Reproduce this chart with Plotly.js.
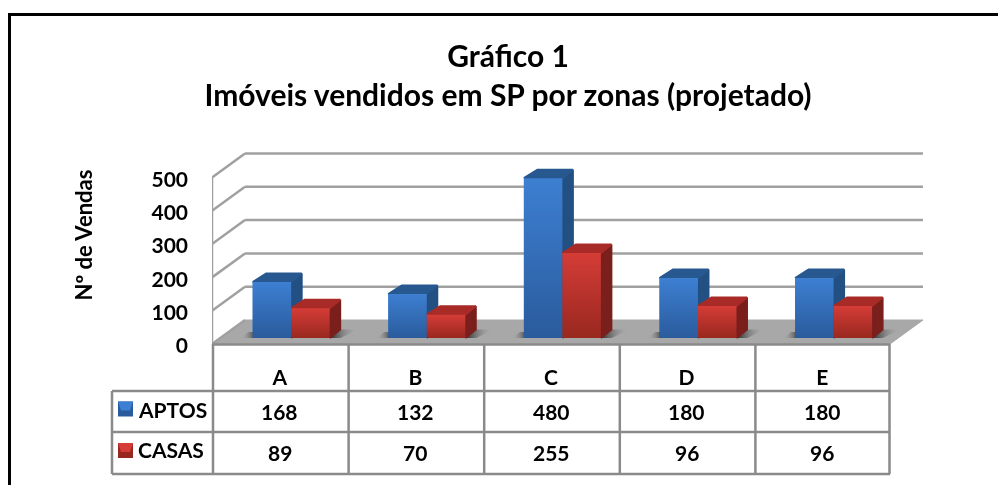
<!DOCTYPE html>
<html><head><meta charset="utf-8">
<script src="https://cdn.plot.ly/plotly-3.0.1.min.js"></script>
<style>html,body{margin:0;padding:0;background:#fff}#c{width:998px;height:485px;filter:blur(0.45px)}</style>
</head><body><div id="c"></div>
<script>
const categories = ['A','B','C','D','E'];
const aptos = [168,132,480,180,180];
const casas = [89,70,255,96,96];
const yTicks = [0,100,200,300,400,500];
const seriesNames = ['APTOS','CASAS'];
const titleText = 'Gráfico 1<br>Imóveis vendidos em SP por zonas (projetado)';
const yTitle = 'Nº de Vendas';

// layout geometry (page pixels)
const W=998,H=485,L=212,R=925,T=150,B=344;
const catW=135.6, yScale=0.333;
const pw=R-L, ph=B-T;
const px=p=>(p-L)/pw, py=p=>(B-p)/ph;
const xs=categories.map((_,i)=>i);
const FONT='Lato, Carlito, Calibri, sans-serif';
// depth of wall/floor and bars, in axis units
const wallDx=33/catW, wallDy=24/yScale;
const barDx=10.5/catW, barDxL=13.5/catW, barDy=8.5/yScale, base=6/yScale;
const barW=38.5/catW;
const left=-0.5, right=4.5;

const colors={
 blue:{hi:'#3d7fd2',lo:'#2a5b9c',side:'#235083',top:'#27588f'},
 red:{hi:'#d53c37',lo:'#98281f',side:'#7a1f1c',top:'#a82b27'}
};
const traces=[];
function poly(x,y,color,extra){
  traces.push(Object.assign({type:'scatter',mode:'lines',x:x.concat(x[0]),y:y.concat(y[0]),fill:'toself',
    fillcolor:color,line:{color:color,width:2},hoverinfo:'skip',showlegend:false,cliponaxis:false},extra||{}));
}
const offs=[-0.2,-0.2+barW];
const vals=[aptos,casas];
const cols=[colors.blue,colors.red];
// real bars
vals.forEach((v,s)=>traces.push({type:'bar',name:seriesNames[s],x:xs,y:v,base:base,width:barW,offset:offs[s],
  marker:{color:cols[s].hi,line:{width:0}},showlegend:false}));
// floor shadows
xs.forEach(i=>{
  const r=offs[1]+i+barW;
  poly([r,r+barDx,r+barDx+0.13,r+0.08],[base,base+barDy,base+barDy,base],'rgba(0,0,0,0)',
    {line:{width:0},fillgradient:{type:'horizontal',colorscale:[[0,'rgba(40,40,40,1)'],[1,'rgba(166,166,166,0)']]}});
  const l=offs[0]+i;
  poly([l-0.09,l-0.03,l+0.02,l+0.02],[base,base+barDy*0.7,base+barDy*0.7,base],'rgba(0,0,0,0)',
    {line:{width:0},fillgradient:{type:'horizontal',colorscale:[[0,'rgba(166,166,166,0)'],[1,'rgba(50,50,50,0.9)']]}});
});
// 3D faces, back to front
xs.forEach(i=>{
  vals.forEach((v,s)=>{
    const x0=i+offs[s],x1=x0+barW,t=base+v[i],c=cols[s];
    poly([x1,x1+barDx,x1+barDx,x1],[base,base+barDy,t+barDy,t],c.side);
    poly([x0,x0+barDxL,x1+barDx,x1],[t,t+barDy,t+barDy,t],c.top);
    poly([x0,x1,x1,x0],[base,base,t,t],'rgba(0,0,0,0)',
      {line:{width:0},fillgradient:{type:'vertical',colorscale:[[0,c.lo],[1,c.hi]]}});
  });
});

// shapes
const GRID='#a0a0a0', TAB='#8a8a8a';
const shapes=[];
const ln=(x0,y0,x1,y1,color,width,layer)=>shapes.push({type:'line',xref:'paper',yref:'paper',
  x0:px(x0),y0:py(y0),x1:px(x1),y1:py(y1),line:{color,width},layer:layer||'above'});
// frame
ln(8,14.5,998,14.5,'#000',3);
ln(9.5,14.5,9.5,485,'#000',3);
// floor
shapes.push({type:'path',xref:'x',yref:'y',layer:'below',fillcolor:'#a8a8a8',line:{color:'#a8a8a8',width:1},
  path:`M ${left} 0 L ${right} 0 L ${right+wallDx} ${wallDy} L ${left+wallDx} ${wallDy} Z`});
// wall grid
yTicks.forEach(v=>{
  shapes.push({type:'line',xref:'x',yref:'y',layer:'below',x0:left,y0:v,x1:left+wallDx,y1:v+wallDy,line:{color:GRID,width:2.5}});
  if(v>0) shapes.push({type:'line',xref:'x',yref:'y',layer:'below',x0:left+wallDx,y0:v+wallDy,x1:right+wallDx,y1:v+wallDy,line:{color:GRID,width:2.5}});
});
shapes.push({type:'line',xref:'x',yref:'y',layer:'below',x0:left,y0:0,x1:left,y1:500,line:{color:GRID,width:2.5}});
// table
const tabL=112, rows=[344,391,432,474];
const colX=categories.map((_,i)=>L+1+catW*i).concat(889.5);
colX.forEach(x=>ln(x,344,x,474,TAB,2.5));
ln(tabL,391,tabL,474,TAB,2.5);
ln(L,344.5,890,344.5,TAB,2.5);
rows.slice(1).forEach(y=>ln(tabL,y,890,y,TAB,2.5));
// legend keys
const keyY=[401.5,443];
seriesNames.forEach((n,s)=>{
  shapes.push({type:'rect',xref:'paper',yref:'paper',x0:px(118),x1:px(133),y0:py(keyY[s]),y1:py(keyY[s]+15),fillcolor:cols[s].lo,line:{width:0},layer:'above'});
  shapes.push({type:'path',xref:'paper',yref:'paper',fillcolor:cols[s].hi,line:{width:0},layer:'above',
    path:`M ${px(118)} ${py(keyY[s])} L ${px(133)} ${py(keyY[s])} L ${px(130)} ${py(keyY[s]+9)} L ${px(121)} ${py(keyY[s]+9)} Z`});
});

// annotations
const tf={family:FONT,size:21,color:'#000',weight:700};
const ann=[];
const note=(text,x,xref,y,extra)=>ann.push(Object.assign({text,x,xref,y:py(y),yref:'paper',showarrow:false,font:tf,xanchor:'center',yanchor:'middle'},extra||{}));
categories.forEach((c,i)=>{
  note(String(aptos[i]),i,'x',411);
  note(String(casas[i]),i,'x',452);
});
note(seriesNames[0],px(136),'paper',409.5,{xanchor:'left'});
note(seriesNames[1],px(136),'paper',449.5,{xanchor:'left'});
note(yTitle,px(82.5),'paper',235,{textangle:-90,font:{family:FONT,size:22,color:'#000',weight:700}});

Plotly.newPlot('c',traces,{
  width:W,height:H,margin:{l:L,r:W-R,t:T,b:H-B,pad:0},
  paper_bgcolor:'#fff',plot_bgcolor:'rgba(0,0,0,0)',showlegend:false,barmode:'overlay',hovermode:false,
  title:{text:titleText,x:px(508),xanchor:'center',xref:'paper',y:1-67/H,yanchor:'top',
    font:{family:FONT,size:30,color:'#000',weight:700}},
  xaxis:{type:'linear',range:[left,left+pw/catW],tickmode:'array',tickvals:xs,ticktext:categories,
    showgrid:false,zeroline:false,showline:false,ticks:'',ticklabelstandoff:19,
    tickfont:tf,fixedrange:true},
  yaxis:{range:[0,ph/yScale],tickmode:'array',tickvals:yTicks,ticktext:yTicks.map(String),
    showgrid:false,zeroline:false,showline:false,ticks:'',ticklabelstandoff:23,ticklabelshift:2,
    tickfont:tf,fixedrange:true},
  shapes,annotations:ann
},{displayModeBar:false,staticPlot:true});
</script></body></html>
